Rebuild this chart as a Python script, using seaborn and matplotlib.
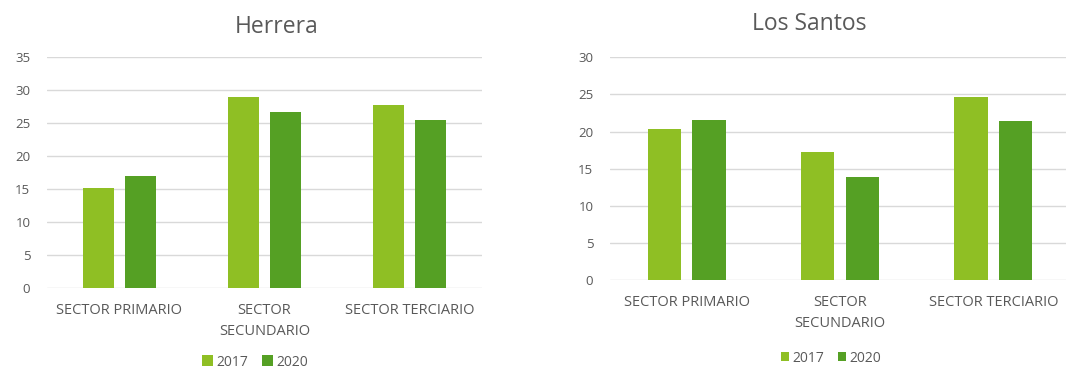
import matplotlib
matplotlib.use("Agg")
import matplotlib.pyplot as plt
import seaborn as sns
import pandas as pd

sectors = ["SECTOR PRIMARIO", "SECTOR\nSECUNDARIO", "SECTOR TERCIARIO"]
years = ["2017", "2020"]
herrera_2017 = [15.2, 29.0, 27.8]
herrera_2020 = [17.0, 26.7, 25.5]
santos_2017 = [20.4, 17.2, 24.7]
santos_2020 = [21.6, 13.9, 21.4]
colors = ["#8fbf24", "#55a024"]
GRAY = "#595959"
GRID = "#d9d9d9"

sns.set_theme(style="white")
plt.rcParams["font.family"] = ["Open Sans", "DejaVu Sans"]

def frame(v17, v20):
    return pd.DataFrame({
        "sector": sectors * 2,
        "year": [years[0]] * 3 + [years[1]] * 3,
        "value": list(v17) + list(v20),
    })

fig = plt.figure(figsize=(10.66, 3.72), dpi=100)
W, H = 1066, 372

def make(ax, df, ymax, title, title_xy, legend_xy, handle_size):
    sns.barplot(data=df, x="sector", y="value", hue="year", palette=colors,
                width=0.58, gap=0.25, ax=ax, saturation=1, legend=True,
                linewidth=0)
    ax.set_ylim(0, ymax)
    ax.set_yticks(range(0, ymax + 1, 5))
    ax.set_xlim(-0.5, 2.5)
    ax.grid(axis="y", color=GRID, linewidth=1)
    ax.set_axisbelow(True)
    for s in ax.spines.values():
        s.set_visible(False)
    ax.tick_params(axis="both", length=0, colors=GRAY)
    ax.tick_params(axis="y", labelsize=9.5, pad=12)
    ax.tick_params(axis="x", pad=11, labelsize=10.5)
    for lab in ax.get_xticklabels():
        lab.set_linespacing(1.5)
        lab.set_verticalalignment("top")
    ax.set_xlabel("")
    ax.set_ylabel("")
    handles, labels = ax.get_legend_handles_labels()
    ax.get_legend().remove()
    fig.legend(handles, labels, loc="center", ncol=2, frameon=False,
               bbox_to_anchor=(legend_xy[0] / W, 1 - legend_xy[1] / H),
               handlelength=handle_size, handleheight=handle_size,
               handletextpad=0.2, columnspacing=1.0, fontsize=10,
               labelcolor=GRAY)
    fig.text(title_xy[0] / W, 1 - title_xy[1] / H, title, ha="center",
             va="center", fontsize=16.5, color=GRAY)

ax1 = fig.add_axes([47 / W, (H - 288) / H, (482 - 47) / W, (288 - 57) / H])
make(ax1, frame(herrera_2017, herrera_2020), 35, "Herrera", (277, 27), (255, 362), 0.8)

ax2 = fig.add_axes([610 / W, (H - 280) / H, (1070 - 610) / W, (280 - 57.3) / H])
make(ax2, frame(santos_2017, santos_2020), 30, "Los Santos", (809, 24), (831, 358), 0.6)

fig.savefig("out.png", dpi=100)
